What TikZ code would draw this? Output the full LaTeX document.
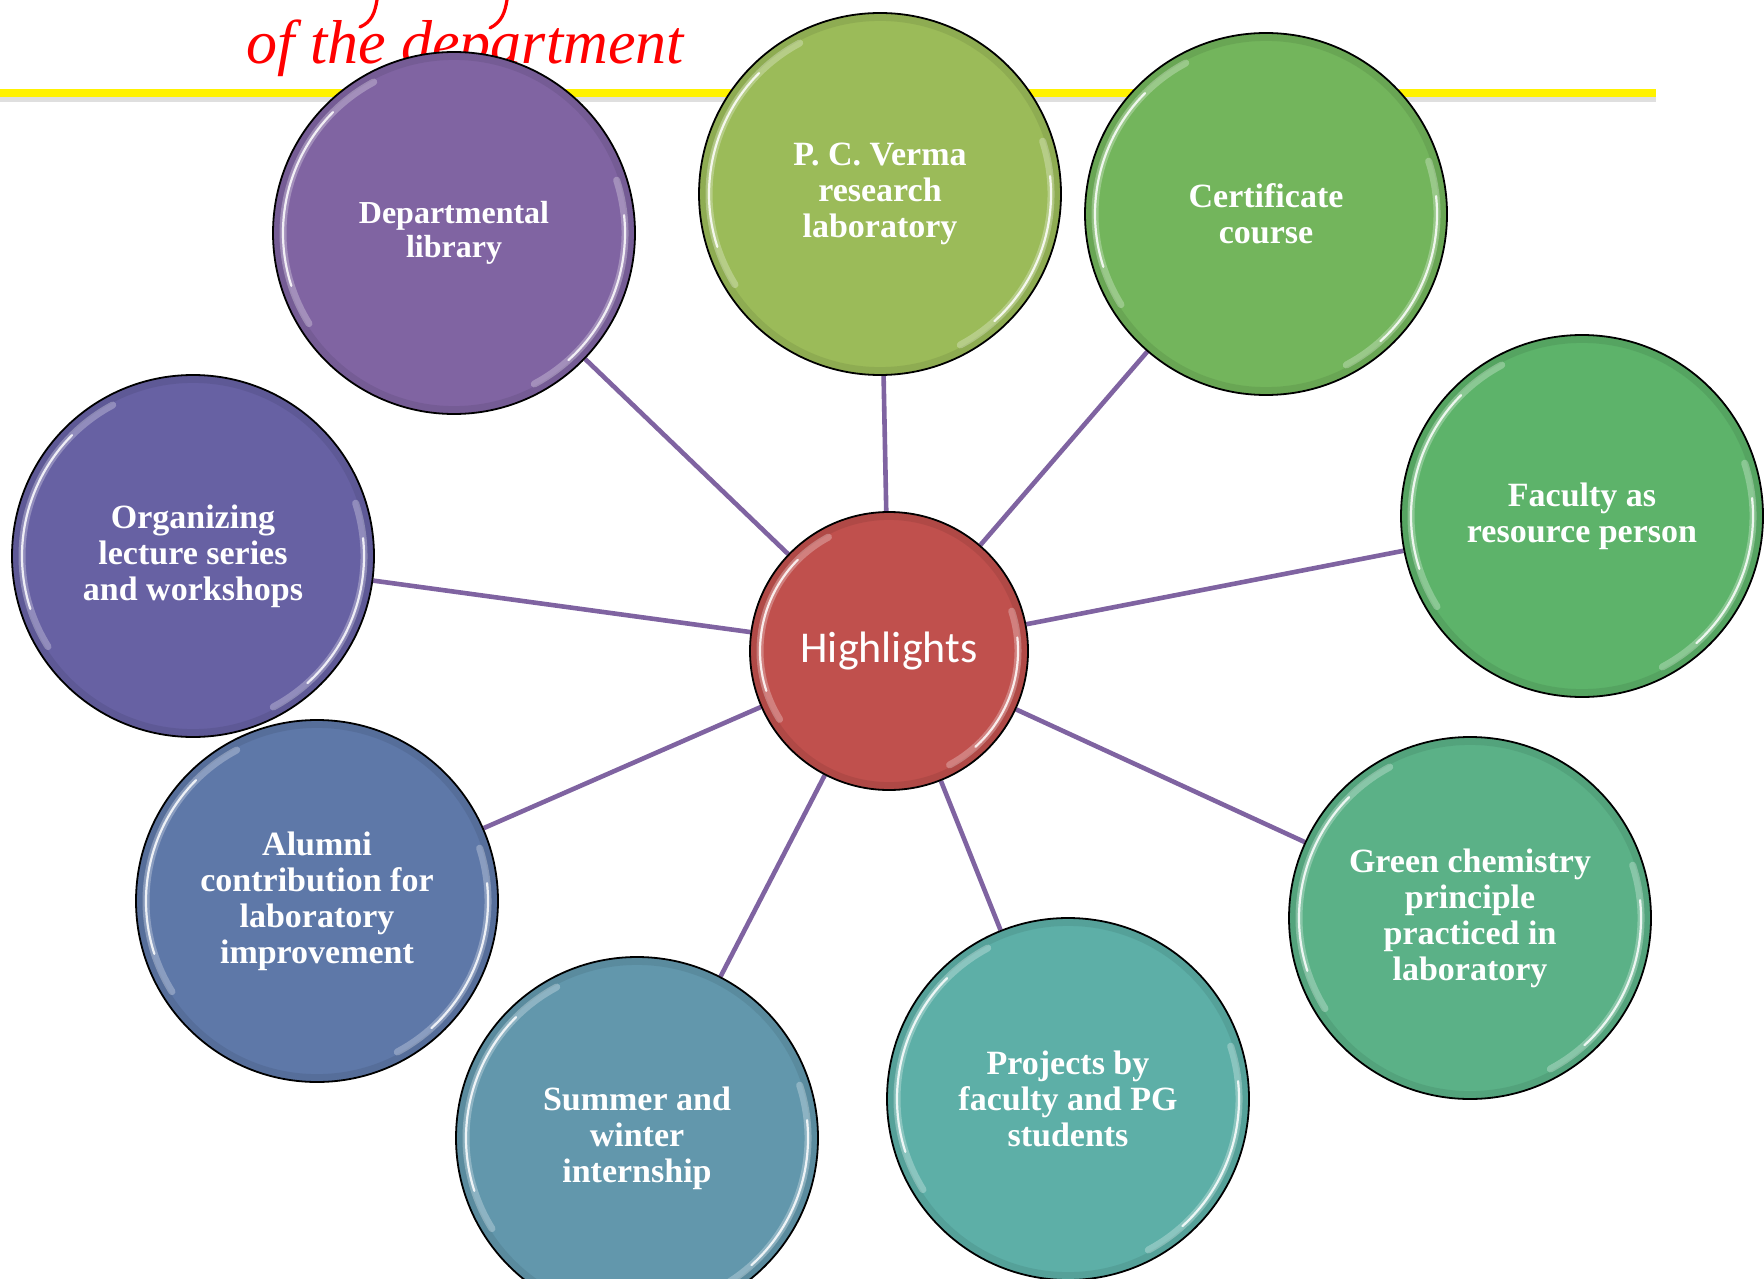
\documentclass[tikz,border=0pt]{standalone}
\usepackage{fontspec}
\setmainfont{Liberation Serif}
\newfontfamily\carlitofont{Carlito}
\usetikzlibrary{backgrounds}
\definecolor{cDept}{HTML}{8064A2}
\definecolor{cOrg}{HTML}{6761A3}
\definecolor{cAlum}{HTML}{5E78A8}
\definecolor{cSum}{HTML}{6297AC}
\definecolor{cProj}{HTML}{5DAFA7}
\definecolor{cGreen}{HTML}{5BB187}
\definecolor{cFac}{HTML}{5DB36A}
\definecolor{cCert}{HTML}{73B55C}
\definecolor{cPCV}{HTML}{9BBB59}
\definecolor{cHigh}{HTML}{C0504D}
\definecolor{cConn}{HTML}{7F63A1}
\newcommand\glossy[2]{%
  \draw[black, opacity=0.08, line width=3.5pt] (#1.center) circle[radius=#2-2.2pt];
  \draw[white, opacity=0.28, line width=3.5pt, line cap=round]
    ([shift={(118:#2-5pt)}]#1.center) arc[start angle=118, end angle=212, radius=#2-5pt];
  \draw[white, opacity=0.85, line width=1.1pt, line cap=round]
    ([shift={(135:#2-5pt)}]#1.center) arc[start angle=135, end angle=198, radius=#2-5pt];
  \draw[white, opacity=0.28, line width=3.5pt, line cap=round]
    ([shift={(-62:#2-5pt)}]#1.center) arc[start angle=-62, end angle=18, radius=#2-5pt];
  \draw[white, opacity=0.85, line width=1.1pt, line cap=round]
    ([shift={(-48:#2-5pt)}]#1.center) arc[start angle=-48, end angle=6, radius=#2-5pt];
}
\begin{document}
\begin{tikzpicture}[x=0.5pt,y=-0.5pt,
  bubble/.style={circle, draw=black, line width=0.9pt, fill=#1, minimum size=181pt,
    inner sep=0pt, text=white, align=center,
    font=\bfseries\fontsize{17}{18}\selectfont},
  hub/.style={circle, draw=black, line width=0.9pt, fill=cHigh, minimum size=139pt,
    inner sep=0pt, text=white, font=\carlitofont\fontsize{22}{24}\selectfont},
  conn/.style={draw=cConn, line width=2.3pt}]
\useasboundingbox (0,0) rectangle (1764,1278);

\node[hub] (hl) at (889,651) {Highlights};
\node[bubble=cDept, font=\bfseries\fontsize{16}{16.8}\selectfont] (dept) at (454,233) {Departmental\\library};
\node[bubble=cPCV] (pcv) at (880,194) {P. C. Verma\\research\\laboratory};
\node[bubble=cCert] (cert) at (1266,214) {Certificate\\course};
\node[bubble=cFac] (fac) at (1582,516) {Faculty as\\resource person};
\node[bubble=cGreen] (green) at (1470,918) {Green chemistry\\principle\\practiced in\\laboratory};
\node[bubble=cProj] (proj) at (1068,1099) {Projects by\\faculty and PG\\students};
\node[bubble=cSum] (sum) at (637,1138) {Summer and\\winter\\internship};
\node[bubble=cAlum] (alum) at (317,901) {Alumni\\contribution for\\laboratory\\improvement};
\node[bubble=cOrg] (org) at (193,556) {Organizing\\lecture series\\and workshops};

\foreach \n in {dept,pcv,cert,fac,green,proj,sum,alum,org}{\glossy{\n}{90.5pt}}
\glossy{hl}{69.5pt}

\begin{scope}[on background layer]
  \fill[white] (0,0) rectangle (1764,1278);
  \draw[gray, opacity=0.25, line width=2.5pt] (0,100) -- (1656,100);
  \draw[yellow, line width=4.3pt] (0,93) -- (1656,93);
  \node[anchor=base west, text=red, inner sep=0pt,
        font=\itshape\fontsize{31}{33}\selectfont] (hand) at (246,64) {of the department};
  \draw[red, line width=1.6pt, line cap=round] (377,0) .. controls (375,12) and (372,22) .. (360,27);
  \draw[red, line width=1.6pt, line cap=round] (507,0) .. controls (505,12) and (502,22) .. (490,28);
  \foreach \n in {dept,pcv,cert,fac,green,proj,sum,alum,org}{\draw[conn] (hl) -- (\n);}
\end{scope}
\end{tikzpicture}
\end{document}
